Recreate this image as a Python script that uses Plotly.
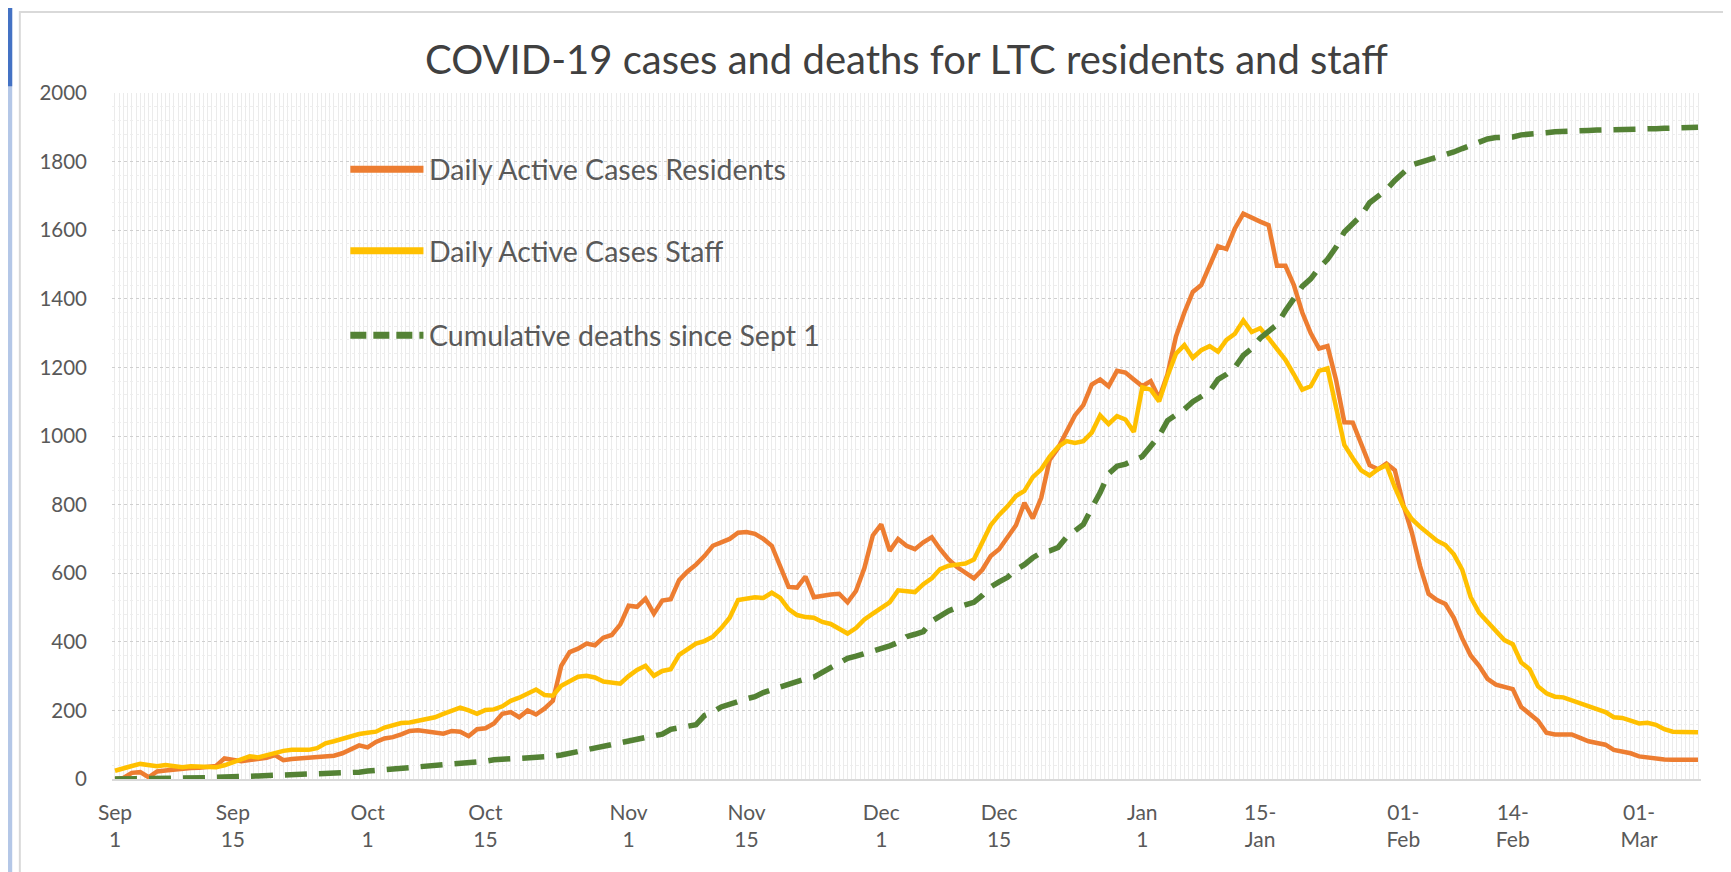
import pandas as pd
import plotly.graph_objects as go

# one value per day, Sep 1 2020 .. Mar 8 2021
dates = pd.date_range('2020-09-01', '2021-03-08', freq='D')

residents = [
    0, 3, 18, 20, 5, 22, 25, 28, 30, 32,
    33, 35, 38, 60, 55, 52, 55, 58, 62, 70,
    55, 58, 60, 63, 65, 65, 68, 75, 88, 98,
    92, 108, 118, 122, 130, 140, 142, 138, 133, 132,
    140, 138, 125, 145, 148, 162, 190, 195, 180, 200,
    188, 205, 228, 330, 370, 380, 395, 390, 412, 420,
    450, 505, 502, 526, 482, 520, 524, 580, 605, 625,
    650, 680, 690, 700, 718, 720, 715, 700, 680, 620,
    560, 558, 590, 530, 535, 538, 540, 515, 548, 615,
    710, 742, 665, 700, 680, 670, 690, 705, 670, 640,
    618, 600, 585, 610, 650, 670, 705, 740, 805, 760,
    820, 930, 965, 1010, 1060, 1090, 1150, 1165, 1145, 1190,
    1185, 1165, 1145, 1160, 1110, 1180, 1290, 1360, 1420, 1440,
    1500, 1553, 1545, 1605, 1648, 1635, 1625, 1615, 1496, 1496,
    1440, 1360, 1300, 1255, 1262, 1165, 1040, 1039, 975, 915,
    903, 920, 900, 800, 720, 620, 540, 522, 510, 470,
    410, 360, 330, 292, 275, 270, 262, 210, 190, 170,
    135, 130, 130, 130, 120, 110, 105, 100, 85, 80,
    75, 66, 62, 59, 57, 56, 56, 56, 56,
]

staff = [
    24, 32, 38, 44, 40, 37, 41, 36, 34, 37,
    35, 34, 34, 40, 48, 58, 66, 63, 70, 77,
    82, 85, 85, 85, 90, 104, 110, 117, 125, 131,
    135, 138, 150, 157, 163, 165, 169, 175, 180, 190,
    200, 208, 200, 190, 201, 203, 212, 228, 237, 250,
    261, 245, 243, 272, 285, 298, 301, 296, 284, 280,
    278, 300, 318, 330, 301, 315, 320, 362, 378, 395,
    402, 415, 440, 470, 522, 526, 530, 528, 543, 528,
    495, 478, 472, 470, 458, 452, 438, 424, 440, 465,
    482, 500, 515, 550, 548, 545, 568, 585, 612, 622,
    625, 628, 640, 690, 740, 770, 795, 825, 840, 880,
    903, 940, 968, 985, 980, 985, 1010, 1060, 1035, 1058,
    1048, 1012, 1142, 1135, 1101, 1175, 1240, 1265, 1228, 1250,
    1262, 1246, 1280, 1298, 1337, 1303, 1314, 1285, 1251, 1222,
    1180, 1135, 1145, 1190, 1197, 1090, 974, 935, 900, 885,
    903, 915, 850, 795, 758, 735, 715, 695, 682, 655,
    610, 530, 485, 458, 435, 405, 393, 340, 320, 270,
    250, 240, 238, 230, 221, 212, 205, 195, 180, 178,
    170, 162, 164, 158, 145, 138, 137, 136, 136,
]

deaths = [
    0, 0, 0, 0, 0, 0, 0, 1, 2, 2,
    3, 4, 5, 5, 6, 8, 8, 9, 10, 12,
    12, 13, 14, 15, 15, 15, 16, 16, 17, 20,
    23, 25, 27, 29, 30, 32, 34, 36, 37, 39,
    42, 44, 45, 48, 52, 56, 57, 58, 60, 60,
    61, 62, 66, 70, 75, 78, 85, 90, 95, 102,
    106, 110, 114, 121, 126, 131, 145, 150, 153, 158,
    185, 195, 210, 220, 226, 234, 240, 252, 260, 270,
    280, 287, 292, 297, 310, 325, 338, 352, 358, 365,
    370, 378, 388, 398, 415, 422, 430, 460, 475, 490,
    500, 507, 515, 535, 560, 575, 588, 610, 625, 645,
    660, 665, 675, 705, 725, 742, 790, 835, 890, 912,
    918, 928, 940, 970, 1000, 1045, 1062, 1078, 1100, 1115,
    1130, 1165, 1180, 1200, 1235, 1255, 1285, 1305, 1325, 1365,
    1400, 1436, 1458, 1490, 1515, 1550, 1595, 1620, 1643, 1680,
    1700, 1718, 1745, 1770, 1790, 1798, 1805, 1812, 1818, 1828,
    1838, 1848, 1857, 1866, 1870, 1870, 1872, 1878, 1879, 1880,
    1884, 1887, 1887, 1888, 1890, 1891, 1892, 1892, 1892, 1893,
    1893, 1895, 1896, 1896, 1897, 1898, 1900, 1900, 1900,
]

tick_dates = ['2020-09-01', '2020-09-15', '2020-10-01', '2020-10-15', '2020-11-01',
              '2020-11-15', '2020-12-01', '2020-12-15', '2021-01-01', '2021-01-15',
              '2021-02-01', '2021-02-14', '2021-03-01']
tick_labels = ['Sep<br>1', 'Sep<br>15', 'Oct<br>1', 'Oct<br>15', 'Nov<br>1',
               'Nov<br>15', 'Dec<br>1', 'Dec<br>15', 'Jan<br>1', '15-<br>Jan',
               '01-<br>Feb', '14-<br>Feb', '01-<br>Mar']

series_names = ['Daily Active Cases Residents', 'Daily Active Cases Staff',
                'Cumulative deaths since Sept 1']
series_colors = ['#ED7D31', '#FFC000', '#548235']

font_family = 'Lato, Open Sans, sans-serif'
text_grey = '#595959'

fig = go.Figure()
fig.add_trace(go.Scatter(x=dates, y=residents, name=series_names[0], mode='lines',
                         line=dict(color=series_colors[0], width=4.5)))
fig.add_trace(go.Scatter(x=dates, y=staff, name=series_names[1], mode='lines',
                         line=dict(color=series_colors[1], width=4.5)))
fig.add_trace(go.Scatter(x=dates, y=deaths, name=series_names[2], mode='lines',
                         line=dict(color=series_colors[2], width=5.5, dash='22px,12px')))

# hand-made legend, the excel one has long line samples
legend_rows = [0.889, 0.770, 0.647]
shapes = []
annotations = []
for name, color, row_y in zip(series_names, series_colors, legend_rows):
    shapes.append(dict(type='line', xref='paper', yref='paper', x0=0.150, x1=0.196,
                       y0=row_y, y1=row_y,
                       line=dict(color=color, width=7,
                                 dash='16px,7px' if 'deaths' in name else 'solid')))
    annotations.append(dict(xref='paper', yref='paper', x=0.1985, y=row_y, text=name,
                            showarrow=False, xanchor='left', yanchor='middle',
                            font=dict(family=font_family, size=28.5, color=text_grey)))

# chart frame and the blue strip at the left edge of the screenshot
shapes.append(dict(type='rect', xref='paper', yref='paper', x0=-0.058, x1=1.05,
                   y0=-0.2, y1=1.118, line=dict(color='#d9d9d9', width=2), layer='below'))
shapes.append(dict(type='rect', xref='paper', yref='paper', x0=-0.0655, x1=-0.0628,
                   y0=-0.2, y1=1.2, line=dict(width=0), fillcolor='#b4c7e7'))
shapes.append(dict(type='rect', xref='paper', yref='paper', x0=-0.0655, x1=-0.0628,
                   y0=1.01, y1=1.2, line=dict(width=0), fillcolor='#4472c4'))

fig.update_layout(
    width=1731, height=872,
    margin=dict(l=104, r=38, t=85, b=101),
    paper_bgcolor='white', plot_bgcolor='white',
    showlegend=False,
    title=dict(text='COVID-19 cases and deaths for LTC residents and staff',
               xref='paper', x=0.5, xanchor='center', y=0.94, yanchor='middle',
               font=dict(family=font_family, size=40, color='#404040')),
    font=dict(family=font_family, color=text_grey),
    shapes=shapes,
    annotations=annotations,
    xaxis=dict(type='date',
               range=['2020-08-31 15:30', '2021-03-08 08:30'],
               tickvals=tick_dates, ticktext=tick_labels,
               tickfont=dict(size=21, color=text_grey),
               showgrid=False, showline=True, linecolor='#d9d9d9', linewidth=1.5,
               ticks='', ticklabelstandoff=14,
               minor=dict(dtick=43200000, showgrid=True, gridcolor='#ebebeb', gridwidth=1)),
    yaxis=dict(range=[0, 2000], dtick=200,
               tickfont=dict(size=20.5, color=text_grey),
               showgrid=True, gridcolor='#cfcfcf', griddash='dot', gridwidth=1,
               zeroline=True, zerolinecolor='#d9d9d9', zerolinewidth=1.5,
               ticks='', ticklabelstandoff=24,
               minor=dict(dtick=40, showgrid=True, gridcolor='#eeeeee', gridwidth=1)),
)

fig.write_html('out.html')
